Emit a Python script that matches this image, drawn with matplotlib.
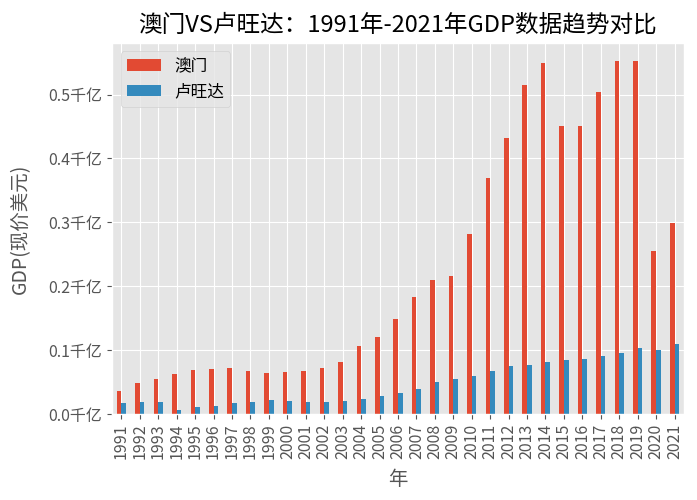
import numpy as np
import pandas as pd
import matplotlib
matplotlib.use('Agg')
import matplotlib.pyplot as plt
from matplotlib.ticker import FuncFormatter

plt.style.use('ggplot')
plt.rcParams['font.family'] = ['Noto Sans CJK SC', 'DejaVu Sans']
plt.rcParams['axes.unicode_minus'] = False

years = list(range(1991, 2022))

# GDP w jednostkach 千亿 (1e11 USD)
macau = [0.0364, 0.0478, 0.0552, 0.0619, 0.0692, 0.0708, 0.0713, 0.0666, 0.0645, 0.0660,
         0.0671, 0.0723, 0.0812, 0.1057, 0.1208, 0.1480, 0.1833, 0.2098, 0.2156, 0.2817,
         0.3687, 0.4317, 0.5156, 0.5494, 0.4505, 0.4510, 0.5040, 0.5530, 0.5525, 0.2552,
         0.2984]
rwanda = [0.0177, 0.0192, 0.0187, 0.0062, 0.0114, 0.0125, 0.0171, 0.0187, 0.0213, 0.0197,
          0.0187, 0.0182, 0.0203, 0.0229, 0.0281, 0.0323, 0.0395, 0.0505, 0.0552, 0.0598,
          0.0671, 0.0750, 0.0770, 0.0812, 0.0838, 0.0853, 0.0911, 0.0953, 0.1026, 0.1005,
          0.1098]

df = pd.DataFrame({'澳门': macau, '卢旺达': rwanda}, index=years)

fig, ax = plt.subplots(figsize=(6.97, 5.0), dpi=100)
df.plot(kind='bar', ax=ax)

ax.set_title('澳门VS卢旺达：1991年-2021年GDP数据趋势对比', fontsize=17, pad=8)
ax.set_xlabel('年', fontsize=14, labelpad=7)
ax.set_ylabel('GDP(现价美元)', fontsize=14)
ax.yaxis.set_label_coords(-0.142, 0.5)
ax.tick_params(axis='both', labelsize=11.5)
ax.yaxis.set_major_formatter(FuncFormatter(lambda v, p: f'{v:.1f}千亿'))
ax.legend(loc='upper left', fontsize=12)

plt.subplots_adjust(left=0.161, right=0.981, top=0.914, bottom=0.172)
plt.savefig('out.png', dpi=100)
